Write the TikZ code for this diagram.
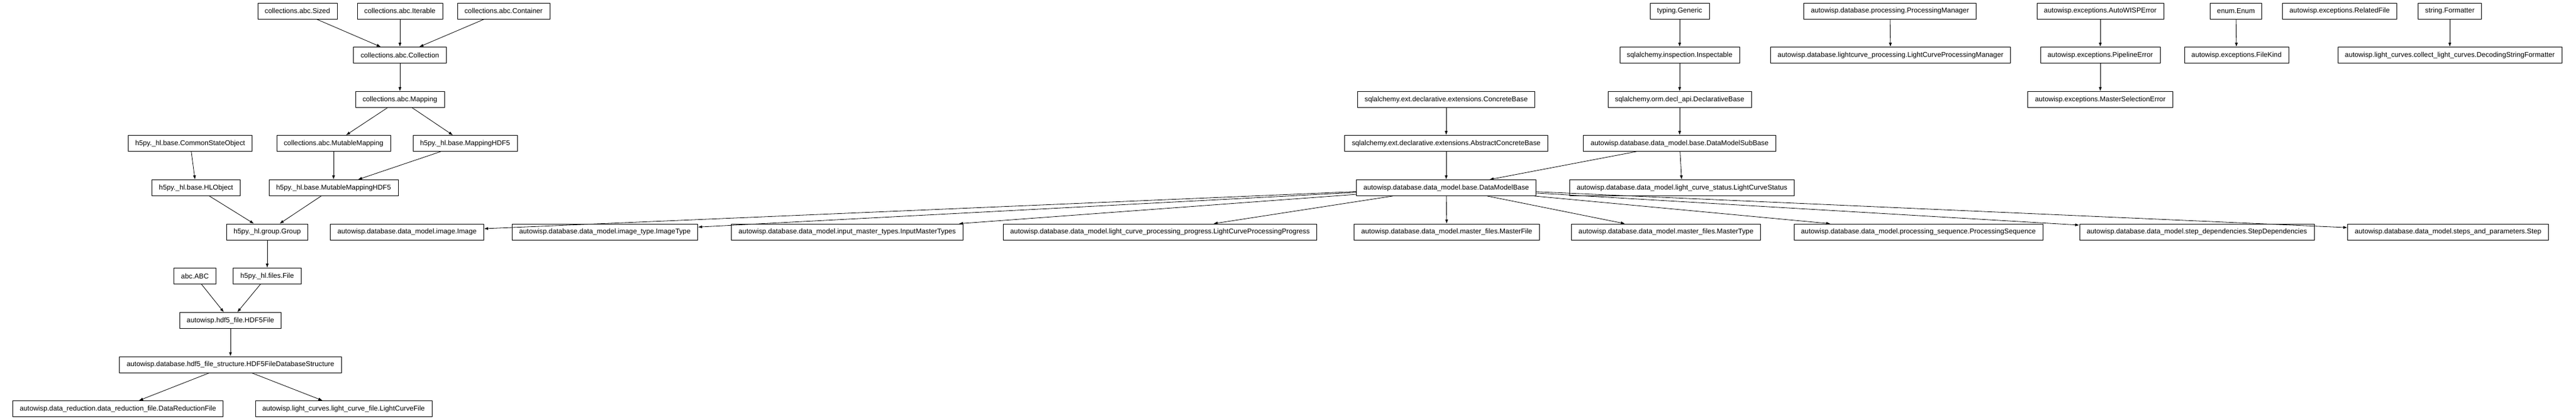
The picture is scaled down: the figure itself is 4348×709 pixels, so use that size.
\documentclass[tikz,border=0pt]{standalone}
\usepackage{fontspec}
\setmainfont{Liberation Sans}
\usetikzlibrary{arrows.meta}

\begin{document}
\begin{tikzpicture}[
        x=1pt,
        y=-1pt,
        font=\fontsize{11.8}{14}\selectfont,
        cls/.style={
            rectangle,
            draw=black,
            fill=white,
            line width=0.8pt,
            minimum height=27pt,
            inner xsep=12pt,
            inner ysep=0pt,
        },
        inh/.style={
            -{Latex[length=7pt,width=5pt]},
            line width=0.8pt,
        },
    ]
        \path [fill=white, use as bounding box] (0,0) rectangle (4348,709);

        \node [cls] (sized) at (502,18.5) {collections.abc.Sized};
        \node [cls] (iterable) at (675,18.5) {collections.abc.Iterable};
        \node [cls] (container) at (850,18.5) {collections.abc.Container};
        \node [cls] (collection) at (675,93) {collections.abc.Collection};
        \node [cls] (mapping) at (675,168) {collections.abc.Mapping};
        \node [cls] (commonstate) at (321,242) {h5py.\_hl.base.CommonStateObject};
        \node [cls] (mutmapping) at (563,242) {collections.abc.MutableMapping};
        \node [cls] (mappinghdf) at (785,242) {h5py.\_hl.base.MappingHDF5};
        \node [cls] (hlobject) at (331,317) {h5py.\_hl.base.HLObject};
        \node [cls] (mutmappinghdf) at (563,317) {h5py.\_hl.base.MutableMappingHDF5};
        \node [cls] (group) at (451,391.5) {h5py.\_hl.group.Group};
        \node [cls] (abc) at (329,466) {abc.ABC};
        \node [cls] (file) at (451,466) {h5py.\_hl.files.File};
        \node [cls] (hdffile) at (389,541) {autowisp.hdf5\_file.HDF5File};
        \node [cls] (hdfstruct) at (389,615.5) {autowisp.database.hdf5\_file\_structure.HDF5FileDatabaseStructure};
        \node [cls] (drfile) at (199,690) {autowisp.data\_reduction.data\_reduction\_file.DataReductionFile};
        \node [cls] (lcfile) at (580,690) {autowisp.light\_curves.light\_curve\_file.LightCurveFile};

        \node [cls] (generic) at (2835,18.5) {typing.Generic};
        \node [cls] (inspectable) at (2835,93) {sqlalchemy.inspection.Inspectable};
        \node [cls] (concrete) at (2441,168) {sqlalchemy.ext.declarative.extensions.ConcreteBase};
        \node [cls] (declbase) at (2835,168) {sqlalchemy.orm.decl\_api.DeclarativeBase};
        \node [cls] (absconcrete) at (2441,242) {sqlalchemy.ext.declarative.extensions.AbstractConcreteBase};
        \node [cls] (subbase) at (2835,242) {autowisp.database.data\_model.base.DataModelSubBase};
        \node [cls] (dmbase) at (2441,317) {autowisp.database.data\_model.base.DataModelBase};
        \node [cls] (lcstatus) at (2839,317) {autowisp.database.data\_model.light\_curve\_status.LightCurveStatus};

        \node [cls] (image) at (687,391.5) {autowisp.database.data\_model.image.Image};
        \node [cls] (imagetype) at (1021,391.5) {autowisp.database.data\_model.image\_type.ImageType};
        \node [cls] (inputmaster) at (1430,391.5) {autowisp.database.data\_model.input\_master\_types.InputMasterTypes};
        \node [cls] (lcprogress) at (1958,391.5) {autowisp.database.data\_model.light\_curve\_processing\_progress.LightCurveProcessingProgress};
        \node [cls] (masterfile) at (2442,391.5) {autowisp.database.data\_model.master\_files.MasterFile};
        \node [cls] (mastertype) at (2812,391.5) {autowisp.database.data\_model.master\_files.MasterType};
        \node [cls] (procseq) at (3238,391.5) {autowisp.database.data\_model.processing\_sequence.ProcessingSequence};
        \node [cls] (stepdeps) at (3708,391.5) {autowisp.database.data\_model.step\_dependencies.StepDependencies};
        \node [cls] (step) at (4132,391.5) {autowisp.database.data\_model.steps\_and\_parameters.Step};

        \node [cls] (procmgr) at (3190,18.5) {autowisp.database.processing.ProcessingManager};
        \node [cls] (lcprocmgr) at (3191,93) {autowisp.database.lightcurve\_processing.LightCurveProcessingManager};
        \node [cls] (wisperror) at (3545,18.5) {autowisp.exceptions.AutoWISPError};
        \node [cls] (pipeerror) at (3545,93) {autowisp.exceptions.PipelineError};
        \node [cls] (mastersel) at (3545,168) {autowisp.exceptions.MasterSelectionError};
        \node [cls] (enum) at (3774,18.5) {enum.Enum};
        \node [cls] (filekind) at (3775,93) {autowisp.exceptions.FileKind};
        \node [cls] (relfile) at (3949,18.5) {autowisp.exceptions.RelatedFile};
        \node [cls] (formatter) at (4135,18.5) {string.Formatter};
        \node [cls] (decformatter) at (4135,93) {autowisp.light\_curves.collect\_light\_curves.DecodingStringFormatter};

        \draw [inh] (sized) -- (collection);
        \draw [inh] (iterable) -- (collection);
        \draw [inh] (container) -- (collection);
        \draw [inh] (collection) -- (mapping);
        \draw [inh] (mapping) -- (mutmapping);
        \draw [inh] (mapping) -- (mappinghdf);
        \draw [inh] (commonstate) -- (hlobject);
        \draw [inh] (mutmapping) -- (mutmappinghdf);
        \draw [inh] (mappinghdf) -- (mutmappinghdf);
        \draw [inh] (hlobject) -- (group);
        \draw [inh] (mutmappinghdf) -- (group);
        \draw [inh] (group) -- (file);
        \draw [inh] (abc) -- (hdffile);
        \draw [inh] (file) -- (hdffile);
        \draw [inh] (hdffile) -- (hdfstruct);
        \draw [inh] (hdfstruct) -- (drfile);
        \draw [inh] (hdfstruct) -- (lcfile);

        \draw [inh] (generic) -- (inspectable);
        \draw [inh] (inspectable) -- (declbase);
        \draw [inh] (declbase) -- (subbase);
        \draw [inh] (concrete) -- (absconcrete);
        \draw [inh] (absconcrete) -- (dmbase);
        \draw [inh] (subbase) -- (dmbase);
        \draw [inh] (subbase) -- (lcstatus);
        \draw [inh] (dmbase) -- (image);
        \draw [inh] (dmbase) -- (imagetype);
        \draw [inh] (dmbase) -- (inputmaster);
        \draw [inh] (dmbase) -- (lcprogress);
        \draw [inh] (dmbase) -- (masterfile);
        \draw [inh] (dmbase) -- (mastertype);
        \draw [inh] (dmbase) -- (procseq);
        \draw [inh] (dmbase) -- (stepdeps);
        \draw [inh] (dmbase) -- (step);

        \draw [inh] (procmgr) -- (lcprocmgr);
        \draw [inh] (wisperror) -- (pipeerror);
        \draw [inh] (pipeerror) -- (mastersel);
        \draw [inh] (enum) -- (filekind);
        \draw [inh] (formatter) -- (decformatter);
    \end{tikzpicture}
\end{document}
